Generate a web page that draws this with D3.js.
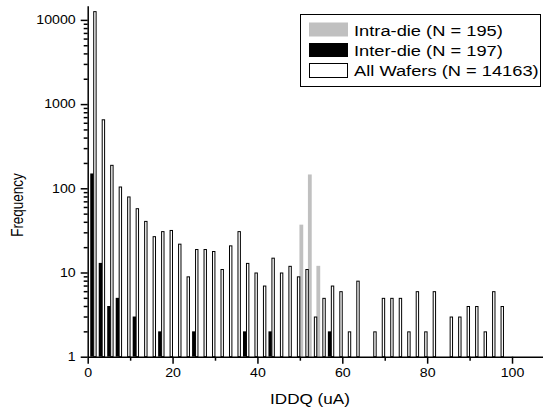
<!DOCTYPE html>
<html>
<head>
<meta charset="utf-8">
<script src="https://cdn.jsdelivr.net/npm/d3@7"></script>
<style>
body { margin: 0; background: #fff; }
svg text { font-family: "Liberation Sans", Arial, sans-serif; fill: #000; }
</style>
</head>
<body>
<div id="chart"></div>
<script>
// histogram bins (centre of each 2 uA bin)
var binCenters = [1,3,5,7,9,11,13,15,17,19,21,23,25,27,29,31,33,35,37,39,41,43,45,47,49,
	51,53,55,57,59,61,63,65,67,69,71,73,75,77,79,81,83,85,87,89,91,93,95,97];
var allWafers = [12700,660,190,105,80,58,41,27,31,32,22,9,19,19,18,11,21,31,13,10,7,15,10,12,9,
	11,3,5,7,6,2,8,0,2,5,5,5,2,6,2,6,0,3,3,4,4,2,6,4];
var interBins = [1,3,5,7,11,17,25,37,43,57];
var interCounts = [150,13,4,5,3,2,2,2,2,2];
var intraBins = [51,53,55];
var intraCounts = [37,146,12];

var seriesNames = ['Intra-die (N = 195)', 'Inter-die (N = 197)', 'All Wafers (N = 14163)'];
var yMajor = [1,10,100,1000,10000];
var xMajor = [0,20,40,60,80,100];

var width = 543, height = 412;
var sx = 1.18; // the source picture is a bit wider than tall

var svg = d3.select('#chart').append('svg')
	.attr('width', width)
	.attr('height', height);

var x = d3.scaleLinear()
	.domain([0, 107.3])
	.range([87.7, 543]);

var y = d3.scaleLog()
	.domain([1, 14700])
	.range([356.7, 5.8]);

var barW = 3.4;
var step = 0.7; // offset between series inside a bin

var yMinor = [];
yMajor.forEach(function (d) {
	for (var k = 2; k < 10; k++) {
		if (d * k <= 14700) yMinor.push(d * k);
	}
});
var xMinor = [10,30,50,70,90];

// bars: intra (left), inter (middle), all wafers (right)
svg.append('g').selectAll('rect')
	.data(intraBins)
	.enter()
	.append('rect')
	.attr('x', function (d) { return x(d - step) - barW / 2; })
	.attr('y', function (d, i) { return y(intraCounts[i]); })
	.attr('width', barW + 0.4)
	.attr('height', function (d, i) { return y(1) - y(intraCounts[i]); })
	.attr('fill', '#c0c0c0');

svg.append('g').selectAll('rect')
	.data(interBins)
	.enter()
	.append('rect')
	.attr('x', function (d) { return x(d) - barW / 2; })
	.attr('y', function (d, i) { return y(interCounts[i]); })
	.attr('width', barW)
	.attr('height', function (d, i) { return y(1) - y(interCounts[i]); })
	.attr('fill', '#000');

svg.append('g').selectAll('rect')
	.data(binCenters.filter(function (d, i) { return allWafers[i] > 0; }))
	.enter()
	.append('rect')
	.attr('x', function (d) { return x(d + step) - barW / 2 + 0.5; })
	.attr('y', function (d) { return y(allWafers[binCenters.indexOf(d)]) + 0.5; })
	.attr('width', barW - 1)
	.attr('height', function (d) { return y(1) - y(allWafers[binCenters.indexOf(d)]) - 0.5; })
	.attr('fill', '#fff')
	.attr('stroke', '#000')
	.attr('stroke-width', 1);

// y axis
var yAxisG = svg.append('g')
	.attr('transform', 'translate(' + x(0) + ',0)');
yAxisG.append('g')
	.call(d3.axisLeft(y).tickValues(yMinor).tickSize(4).tickSizeOuter(0).tickFormat(''))
	.call(function (g) { g.select('.domain').remove(); });
yAxisG.append('g')
	.attr('class', 'ymaj')
	.call(d3.axisLeft(y).tickValues(yMajor).tickSize(7).tickSizeOuter(0).tickPadding(5)
		.tickFormat(d3.format('d')));

// x axis
var xAxisG = svg.append('g')
	.attr('transform', 'translate(0,' + y(1) + ')');
xAxisG.append('g')
	.call(d3.axisBottom(x).tickValues(xMinor).tickSize(4).tickSizeOuter(0).tickFormat(''))
	.call(function (g) { g.select('.domain').remove(); });
xAxisG.append('g')
	.call(d3.axisBottom(x).tickValues(xMajor).tickSize(7).tickSizeOuter(0).tickPadding(5)
		.tickFormat(d3.format('d')));

svg.selectAll('.tick line, .domain')
	.attr('stroke', '#000')
	.attr('stroke-width', 1.5);
svg.selectAll('.tick text')
	.attr('font-family', '"Liberation Sans", Arial, sans-serif')
	.attr('font-size', '12px')
	.attr('fill', '#000')
	.attr('transform', 'scale(' + sx + ',1)');
svg.selectAll('.ymaj .tick text')
	.attr('x', -12 / sx);

// axis titles
svg.append('text')
	.attr('transform', 'translate(310,404) scale(' + sx + ',1)')
	.attr('text-anchor', 'middle')
	.attr('font-size', '14.5px')
	.text('IDDQ (uA)');

svg.append('text')
	.attr('transform', 'translate(23,205) rotate(-90) scale(1,' + sx + ')')
	.attr('text-anchor', 'middle')
	.attr('font-size', '13.5px')
	.text('Frequency');

// legend
var legend = svg.append('g');
legend.append('rect')
	.attr('x', 300.5)
	.attr('y', 14.5)
	.attr('width', 240)
	.attr('height', 72)
	.attr('fill', '#fff')
	.attr('stroke', '#000')
	.attr('stroke-width', 1);

var legendFill = ['#c0c0c0', '#000', '#fff'];
legend.selectAll('.sw')
	.data(seriesNames)
	.enter()
	.append('rect')
	.attr('x', function (d, i) { return i == 2 ? 309.5 : 309; })
	.attr('y', function (d, i) { return (i == 2 ? 63.5 : 22.5 + i * 20.5); })
	.attr('width', function (d, i) { return i == 2 ? 38 : 39; })
	.attr('height', 14)
	.attr('fill', function (d, i) { return legendFill[i]; })
	.attr('stroke', function (d, i) { return i == 2 ? '#000' : 'none'; });

legend.selectAll('.lt')
	.data(seriesNames)
	.enter()
	.append('text')
	.attr('transform', function (d, i) { return 'translate(354,' + (35.5 + i * 20.3) + ') scale(' + sx + ',1)'; })
	.attr('font-size', '15.5px')
	.text(function (d) { return d; });
</script>
</body>
</html>
